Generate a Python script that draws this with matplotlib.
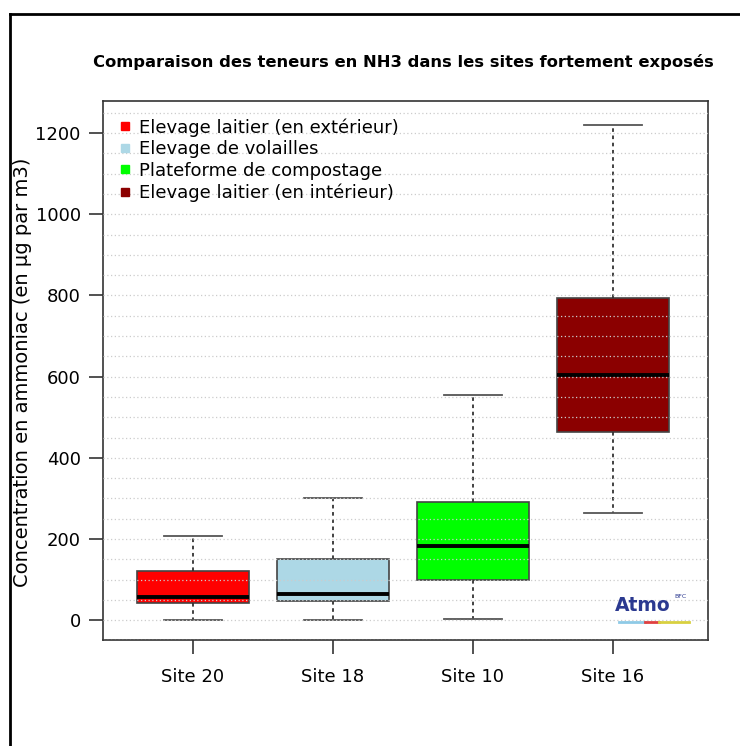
import matplotlib.pyplot as plt
from matplotlib.lines import Line2D

sites = ['Site 20', 'Site 18', 'Site 10', 'Site 16']
labels = ['Elevage laitier (en extérieur)', 'Elevage de volailles',
          'Plateforme de compostage', 'Elevage laitier (en intérieur)']
colors = ['#ff0000', '#add8e6', '#00ff00', '#8b0000']
whislo = [0, 0, 3, 263]
q1 = [42, 47, 98, 463]
med = [57, 64, 182, 603]
q3 = [121, 150, 290, 793]
whishi = [207, 300, 554, 1219]

fig = plt.figure(figsize=(7.4, 7.46), dpi=100)
ax = fig.add_axes([0.139, 0.142, 0.818, 0.7225])

stats = []
for i in range(len(sites)):
    stats.append({'label': sites[i], 'whislo': whislo[i], 'q1': q1[i], 'med': med[i],
                  'q3': q3[i], 'whishi': whishi[i], 'fliers': []})

bp = ax.bxp(stats, positions=range(1, 5), widths=0.8, patch_artist=True, showfliers=False,
            boxprops=dict(edgecolor='#444444', linewidth=1.2),
            medianprops=dict(color='black', linewidth=2.8),
            whiskerprops=dict(color='#333333', linestyle=(0, (2, 2)), linewidth=1.3),
            capprops=dict(color='#555555', linewidth=1.3), capwidths=0.41)
for patch, c in zip(bp['boxes'], colors):
    patch.set_facecolor(c)

# grid drawn over the boxes, like the original
for y in range(-50, 1300, 50):
    ax.axhline(y, color='#cccccc', linestyle=(0, (1, 2)), linewidth=0.9, zorder=3)

ax.set_xlim(0.357, 4.68)
ax.set_ylim(-49, 1279)
ax.set_yticks(range(0, 1201, 200))
ax.set_xticks(range(1, 5))
ax.set_xticklabels(sites)
ax.tick_params(axis='both', labelsize=13, length=10, width=1.2, color='#333333', pad=6)
ax.tick_params(axis='x', pad=10)
for s in ax.spines.values():
    s.set_color('#333333')
    s.set_linewidth(1.2)
ax.set_ylabel('Concentration en ammoniac (en µg par m3)', fontsize=14)
ax.yaxis.set_label_coords(-0.117, 0.497)

handles = [Line2D([], [], marker='s', linestyle='', color=c, markersize=6) for c in colors]
ax.legend(handles, labels, loc='upper left', frameon=False, fontsize=13,
          handletextpad=0.3, labelspacing=0.2, borderaxespad=0.3, handlelength=1.0,
          bbox_to_anchor=(0.0, 0.992))

fig.text(0.545, 0.917, 'Comparaison des teneurs en NH3 dans les sites fortement exposés',
         ha='center', va='center', fontsize=11.8, fontweight='bold')

# logo
ax.text(4.21, 12, 'Atmo', color='#2b3990', fontsize=13.5, fontweight='bold', ha='center', va='bottom', zorder=5)
ax.text(4.44, 52, 'BFC', color='#2b3990', fontsize=4.5, ha='left', va='bottom', zorder=5)
ax.plot([4.04, 4.23], [-5, -5], color='#8ecae6', linewidth=2, zorder=5)
ax.plot([4.23, 4.33], [-5, -5], color='#e04040', linewidth=2, zorder=5)
ax.plot([4.33, 4.54], [-5, -5], color='#d8d040', linewidth=2, zorder=5)

# outer frame
fig.add_artist(Line2D([0.0135, 0.0135], [0, 0.981], color='black', linewidth=2, transform=fig.transFigure))
fig.add_artist(Line2D([0.0135, 1], [0.981, 0.981], color='black', linewidth=2, transform=fig.transFigure))

fig.savefig('out.png', dpi=100)
